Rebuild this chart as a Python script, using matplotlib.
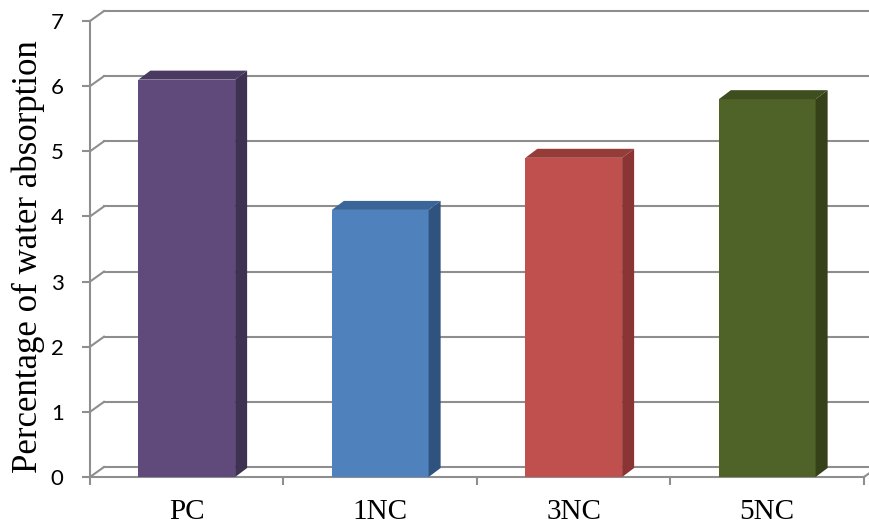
import matplotlib
matplotlib.use("Agg")
import matplotlib.pyplot as plt
from matplotlib.patches import Polygon
import numpy as np

samples = ["PC", "1NC", "3NC", "5NC"]
absorption = [6.1, 4.1, 4.9, 5.8]
front_colors = ["#604A7B", "#4F81BD", "#C0504D", "#4F6228"]
side_colors = ["#3F3151", "#30527F", "#8A3533", "#344119"]
top_colors = ["#4A3A62", "#3A6599", "#953B38", "#3F4E1F"]
yticks = [0, 1, 2, 3, 4, 5, 6, 7]

W, H, DPI = 870, 527, 100
GRID = "#8E8E8E"

fig = plt.figure(figsize=(W / DPI, H / DPI), dpi=DPI)
ax_l, ax_b, ax_w, ax_h = 90, 50, 774, 456   # axes box in pixels
ax = fig.add_axes([ax_l / W, ax_b / H, ax_w / W, ax_h / H])
ax.set_xlim(-0.5, len(samples) - 0.5)
ax.set_ylim(0, 7)

# pixel offsets for the pseudo-3D depth, turned into data units
px_x = ax_w / len(samples)
px_y = ax_h / 7
wall_dx, wall_dy = 14 / px_x, 10 / px_y
bar_dx, bar_dy = 12 / px_x, 9 / px_y

x0, x1 = -0.5, len(samples) - 0.5

# back wall gridlines and the little diagonals joining them to the axis
for y in yticks:
    ax.plot([x0 + wall_dx, x1 + wall_dx], [y + wall_dy, y + wall_dy],
            color=GRID, lw=1.5, clip_on=False, zorder=1)
    ax.plot([x0, x0 + wall_dx], [y, y + wall_dy],
            color=GRID, lw=1.5, clip_on=False, zorder=1)
# right end of the floor
ax.plot([x1, x1 + wall_dx], [0, wall_dy], color=GRID, lw=1.5,
        clip_on=False, zorder=1)

# bars: front face + side + top
xs = np.arange(len(samples))
bw = 0.5
ax.bar(xs, absorption, width=bw, color=front_colors, linewidth=0, zorder=3)
for x, v, sc, tc in zip(xs, absorption, side_colors, top_colors):
    r, l = x + bw / 2, x - bw / 2
    side = [(r, 0), (r + bar_dx, bar_dy), (r + bar_dx, v + bar_dy), (r, v)]
    top = [(l, v), (l + bar_dx, v + bar_dy), (r + bar_dx, v + bar_dy), (r, v)]
    ax.add_patch(Polygon(side, closed=True, fc=sc, ec="none", zorder=3))
    ax.add_patch(Polygon(top, closed=True, fc=tc, ec="none", zorder=3))

# axes styling
for s in ["top", "right"]:
    ax.spines[s].set_visible(False)
for s in ["left", "bottom"]:
    ax.spines[s].set_color(GRID)
    ax.spines[s].set_linewidth(1.5)
    ax.spines[s].set_zorder(2)

ax.set_yticks(yticks)
ax.tick_params(axis="y", length=6, width=1.5, color=GRID, pad=13,
               labelsize=16, labelcolor="black")
for lab in ax.get_yticklabels():
    lab.set_family("Lato")

ax.set_xticks(xs)
ax.set_xticklabels(samples, family="Liberation Serif", fontsize=21)
ax.tick_params(axis="x", which="major", length=0, pad=16)
ax.set_xticks(np.arange(-0.5, len(samples)), minor=True)
ax.tick_params(axis="x", which="minor", length=6, width=1.5, color=GRID)

fig.text(28 / W, 1 - 257 / H, "Percentage of water absorption",
         rotation=90, ha="center", va="center",
         family="Liberation Serif", fontsize=25)

fig.savefig("out.png", dpi=DPI)
